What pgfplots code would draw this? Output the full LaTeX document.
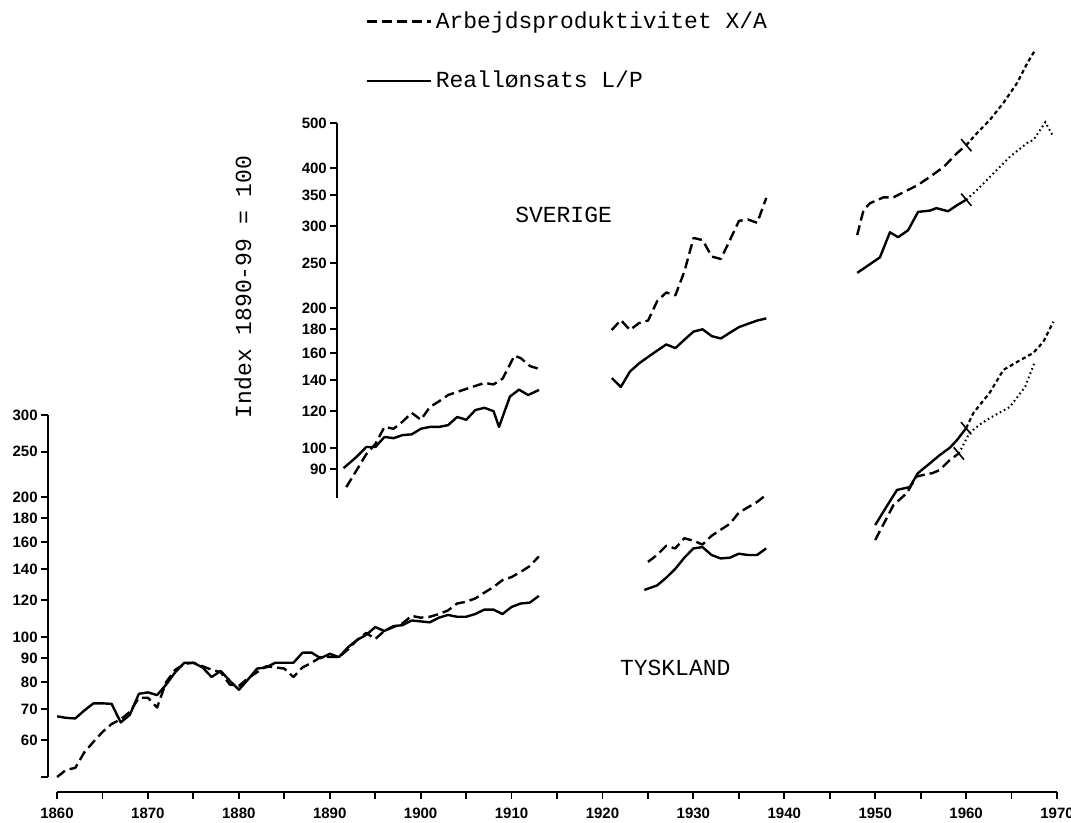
\documentclass[border=0pt]{standalone}
\usepackage{pgfplots}
\pgfplotsset{compat=1.18}
\usepackage{fontspec}
\setmainfont{Liberation Mono}
\newfontfamily\tickfont{Liberation Sans}

\tikzset{
  wage/.style={black, line width=1.2pt, solid, line join=round},
  prod/.style={black, line width=1.2pt, dash pattern=on 5pt off 2.5pt, line join=round},
  dotw/.style={black, line width=1pt, dash pattern=on 0.8pt off 1.5pt},
  dotp/.style={black, line width=1.1pt, dash pattern=on 2pt off 1.5pt},
}

\begin{document}
\begin{tikzpicture}
\path[use as bounding box] (0pt,0pt) rectangle (535.5pt,411.5pt);

% ---------- x axis ----------
\begin{axis}[at={(28.5pt,15.5pt)}, anchor=south west, scale only axis,
  width=500pt, height=5pt, xmin=1860, xmax=1970, ymin=0, ymax=1,
  axis y line=none, axis x line=bottom, axis line style={-, line width=1.2pt},
  xtick={1860,1870,...,1970}, minor xtick={1865,1875,...,1965},
  tick align=outside, major tick length=3.5pt, minor tick length=3.5pt,
  every tick/.style={line width=0.9pt, black},
  /pgf/number format/assume math mode=true,
  xticklabel style={/pgf/number format/1000 sep={}, font=\tickfont\bfseries\fontsize{7.5}{8}\selectfont, inner sep=1.5pt, yshift=-3pt}]
\end{axis}

% ---------- Germany (Tyskland) ----------
\begin{axis}[scale only axis, clip=false, ymode=log,
  axis x line=none, axis y line=left, axis line style={-, line width=1.1pt},
  tick align=outside, major tick length=3.5pt,
  every tick/.style={line width=0.9pt, black},
  minor y tick style={draw=none},
  log ticks with fixed point,
  /pgf/number format/assume math mode=true,
  yticklabel style={font=\tickfont\bfseries\fontsize{7.5}{8}\selectfont, inner sep=1.5pt},
  at={(24pt,23pt)}, anchor=south west,
  width=504.5pt, height=181pt, xmin=1859, xmax=1970, ymin=50, ymax=300,
  ytick={50,60,70,80,90,100,120,140,160,180,200,250,300},
  yticklabels={,60,70,80,90,100,120,140,160,180,200,250,300},
  legend style={draw=none, fill=none, at={(0.3142,2.005)}, anchor=west,
    font=\fontsize{11.5}{13}\selectfont, row sep=16pt, inner sep=0pt,
    cells={anchor=west}},
  legend image code/.code={\draw[#1] (0pt,0pt) -- (32pt,0pt);},
  legend cell align=left]
\addplot[prod] coordinates {
(1860,50) (1861,51.8) (1862,52.3) (1863,56.5) (1864,59.5) (1865,62.5) (1866,65) (1867,66.5)
(1868,69) (1869,74) (1870,74) (1871,70.5) (1872,80) (1873,85) (1874,87.5) (1875,88)
(1876,86.5) (1877,85) (1878,84) (1879,79) (1880,78.5) (1881,81.5) (1882,84) (1883,86.5)
(1884,86) (1885,85.5) (1886,82) (1887,86) (1888,88) (1889,90.5) (1890,90.6) (1891,90.5)
(1892,94) (1893,98.5) (1894,102) (1895,99) (1896,103) (1897,105) (1898,107) (1899,111)
(1900,110) (1901,110.5) (1902,112) (1903,114) (1904,118) (1905,119) (1906,121) (1907,124.5)
(1908,128) (1909,132.5) (1910,134.5) (1911,138) (1912,142) (1913,149)};
\addlegendentry{Arbejdsproduktivitet X/A}
\addplot[wage] coordinates {
(1860,67.5) (1861,67) (1862,66.8) (1863,69.5) (1864,72) (1865,72) (1866,71.8) (1867,65.5)
(1868,68) (1869,75.5) (1870,76) (1871,75) (1872,79) (1873,84) (1874,88) (1875,88)
(1876,86) (1877,82) (1878,84.5) (1879,80.5) (1880,77) (1881,81) (1882,85.5) (1883,86)
(1884,88) (1885,88) (1886,88) (1887,92.5) (1888,92.5) (1889,90) (1890,92) (1891,90.5)
(1892,95) (1893,98.5) (1894,101) (1895,105) (1896,103) (1897,105.5) (1898,106) (1899,108.5)
(1900,108) (1901,107.5) (1902,110) (1903,111.5) (1904,110.5) (1905,110.5) (1906,112) (1907,114.5)
(1908,114.5) (1909,112) (1910,116) (1911,118) (1912,118.5) (1913,122.5)};
\addlegendentry{Reallønsats L/P}
% interwar
\addplot[prod, forget plot] coordinates {
(1925,145) (1926,150) (1927,157) (1928,155) (1929,163) (1930,161) (1931,158) (1932,165)
(1933,170) (1934,175) (1935,185) (1936,190) (1937,195) (1938,202)};
\addplot[wage, forget plot] coordinates {
(1924.6,126.2) (1926,129) (1927,134) (1928,140) (1929,148) (1930,155) (1931,156) (1932,150)
(1933,147.5) (1934,148) (1935,151) (1936,150) (1937,150) (1938,155)};
% postwar
\addplot[prod, forget plot] coordinates {
(1950,161.6) (1951,176) (1952,192) (1953.5,204) (1954.5,221) (1955.3,223) (1956.3,225)
(1957.1,228.5) (1958.2,240) (1959.2,248)};
\addplot[dotw, forget plot] coordinates {
(1959.2,248) (1960.4,275) (1961.7,288) (1962.8,297) (1964.8,312) (1966.5,345) (1967.5,388)};
\addplot[wage, forget plot] coordinates {
(1950,174) (1951.2,190) (1952.4,207) (1953.8,210) (1954.7,225) (1956,236) (1957.1,246)
(1958.2,255) (1959,265) (1960,281)};
\addplot[dotp, forget plot] coordinates {
(1960,281) (1960.8,303) (1962.6,335) (1964.1,375) (1965.6,390) (1967.4,408) (1968.5,431) (1969.6,476)};
\addplot[only marks, mark=|, mark size=4pt, mark options={black, line width=0.8pt, solid, rotate=40}, forget plot]
  coordinates {(1959.2,248) (1960,281)};
\node[font=\fontsize{11.5}{13}\selectfont] at (axis cs:1928,85.8) {TYSKLAND};
\end{axis}

% ---------- Sweden (Sverige) ----------
\begin{axis}[scale only axis, clip=false, ymode=log,
  axis x line=none, axis y line=left, axis line style={-, line width=1.1pt},
  tick align=outside, major tick length=3.5pt,
  every tick/.style={line width=0.9pt, black},
  minor y tick style={draw=none},
  log ticks with fixed point,
  /pgf/number format/assume math mode=true,
  yticklabel style={font=\tickfont\bfseries\fontsize{7.5}{8}\selectfont, inner sep=1.5pt},
  at={(168.6pt,162.4pt)}, anchor=south west,
  width=360pt, height=187.6pt, xmin=1890.8, xmax=1970, ymin=78, ymax=500,
  ytick={90,100,120,140,160,180,200,250,300,350,400,500},
  yticklabels={90,100,120,140,160,180,200,250,300,350,400,500},
  ylabel={Index 1890-99 = 100},
  ylabel style={at={(axis description cs:-0.131,0.563)}, anchor=center,
    font=\fontsize{11.5}{13}\selectfont}]
\addplot[prod] coordinates {
(1891.8,82.4) (1893,90) (1894,97) (1895,102) (1896,111) (1897,110) (1898,114) (1899,119)
(1900,115) (1901,122.5) (1902,126) (1903,130) (1904,132) (1905,134) (1906,136) (1907,138)
(1908,137) (1909,141) (1910.3,158) (1911,156) (1912,150) (1913,148)};
\addplot[wage] coordinates {
(1891.5,90.5) (1893,96) (1894,100.5) (1895,100.5) (1896,105.6) (1897,105) (1898,106.6) (1899,107)
(1900,110) (1901,111) (1902,111) (1903,112) (1904,116.6) (1905,115) (1906,120.7) (1907,122)
(1908,120) (1908.6,111) (1909.8,129) (1910.8,133.5) (1911.8,130) (1913,133.3)};
% interwar
\addplot[prod] coordinates {
(1921,179.4) (1922,188.4) (1923,179.4) (1924,185.6) (1925,188) (1926,207) (1927,216) (1928,213)
(1929,240) (1930,283) (1931,280) (1932,258) (1933,255) (1934,280) (1935,308) (1936,310)
(1937,305) (1938,345)};
\addplot[wage] coordinates {
(1921,141.4) (1922,135.3) (1923,146) (1924,152) (1925,157) (1926,162) (1927,167) (1928,164)
(1929,171) (1930,178) (1931,180) (1932,174) (1933,172) (1934,177) (1935,182) (1936,185)
(1937,188) (1938,190)};
% postwar
\addplot[prod] coordinates {
(1948,287) (1948.7,325) (1949.4,336) (1950.9,346) (1952,346) (1953.1,355) (1954.6,367)
(1956,383) (1957.5,402) (1959,431) (1960,448)};
\addplot[dotp] coordinates {
(1960,448) (1961.2,476) (1962.6,508) (1964.1,553) (1965.6,610) (1966.7,672) (1967.6,719)};
\addplot[wage] coordinates {
(1948,238) (1950.5,257) (1951.6,291) (1952.5,284) (1953.6,294) (1954.7,322) (1956,324)
(1956.7,328) (1958,323) (1959,333) (1960,342)};
\addplot[dotw] coordinates {
(1960,342) (1961.2,359) (1963,390) (1964.8,423) (1966.7,453) (1967.4,460) (1968.7,502) (1969.5,470)};
\addplot[only marks, mark=|, mark size=4pt, mark options={black, line width=0.8pt, solid, rotate=40}]
  coordinates {(1960,448) (1960,342)};
\node[font=\fontsize{11.5}{13}\selectfont] at (axis cs:1915.7,317) {SVERIGE};
\end{axis}
\end{tikzpicture}
\end{document}
